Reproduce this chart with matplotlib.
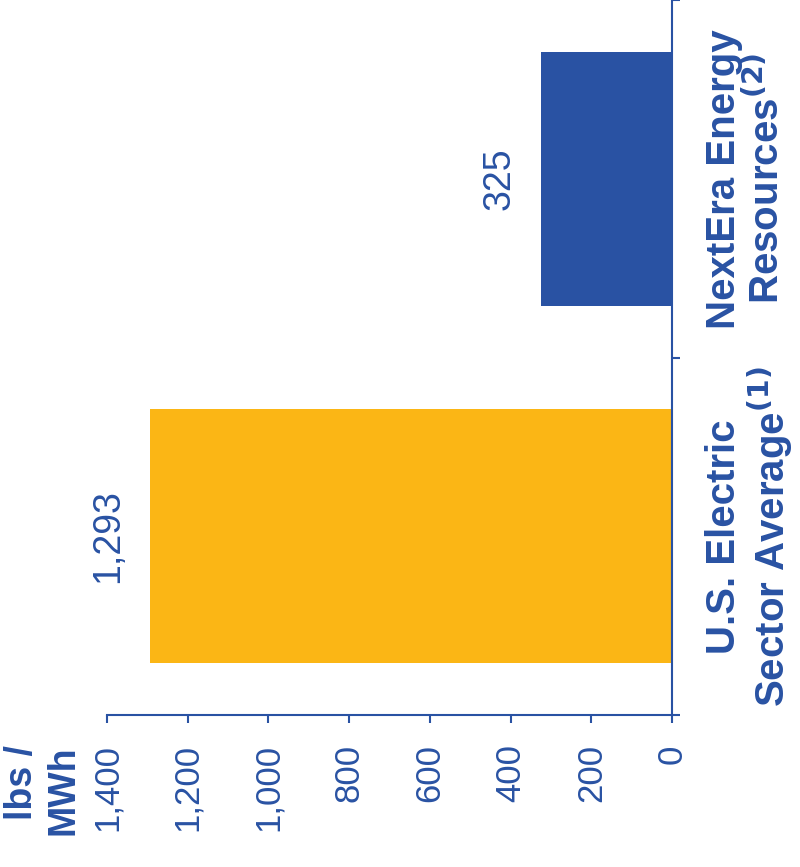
import matplotlib
matplotlib.use("Agg")
import matplotlib.pyplot as plt

plt.rcParams['font.family'] = ['Liberation Sans', 'DejaVu Sans']

# datos del grafico (girado 90 grados)
categorias = ["U.S. Electric\nSector Average$^{\\mathbf{(1)}}$",
              "NextEra Energy\nResources$^{\\mathbf{(2)}}$"]
valores = [1293, 325]
etiquetas_valores = ["1,293", "325"]
colores = ["#FBB615", "#2952A3"]
marcas = [0, 200, 400, 600, 800, 1000, 1200, 1400]
etiquetas_marcas = ["0", "200", "400", "600", "800", "1,000", "1,200", "1,400"]

azul = "#2952A3"

fig = plt.figure(figsize=(8, 8.67), dpi=100)
ax = fig.add_axes([107/800, 1 - 715/867, (672 - 107)/800, 715/867])

posiciones = list(range(len(categorias)))
ax.barh(posiciones, valores, height=0.71, color=colores)

ax.set_xlim(1400, 0)
ax.set_ylim(-0.5, 1.5)

for lado in ["left", "top"]:
    ax.spines[lado].set_visible(False)
for lado in ["right", "bottom"]:
    ax.spines[lado].set_color(azul)
    ax.spines[lado].set_linewidth(1.5)

# eje de valores abajo
ax.set_xticks(marcas, etiquetas_marcas, rotation=90, fontsize=25, color=azul)
ax.tick_params(axis='x', length=6, width=1.5, color=azul, pad=15)

# eje de categorias a la derecha
ax.yaxis.tick_right()
ax.set_yticks([-0.5, 0.5, 1.5])
ax.set_yticklabels([])
ax.set_yticks(posiciones, minor=True)
ax.set_yticklabels(categorias, minor=True, rotation=90, fontsize=29,
                   fontweight='bold', color=azul, va='center', ha='left',
                   multialignment='center', linespacing=1.05)
ax.tick_params(axis='y', which='both', left=False, labelleft=False,
               right=True, labelright=True)
ax.tick_params(axis='y', which='major', length=6, width=1.5, color=azul)
ax.tick_params(axis='y', which='minor', length=0, pad=24)

# etiquetas de valor sobre cada barra
for p, v, txt in zip(posiciones, valores, etiquetas_valores):
    ax.annotate(txt, xy=(v, p), xytext=(-30, 0), textcoords='offset points',
                rotation=90, ha='center', va='center', fontsize=27, color=azul)

fig.text(0.005, 1 - 745/867, "lbs /\nMWh", rotation=90, ha='left', va='top',
         multialignment='right', fontsize=27, fontweight='bold', color=azul)

fig.savefig("out.png", dpi=100)
